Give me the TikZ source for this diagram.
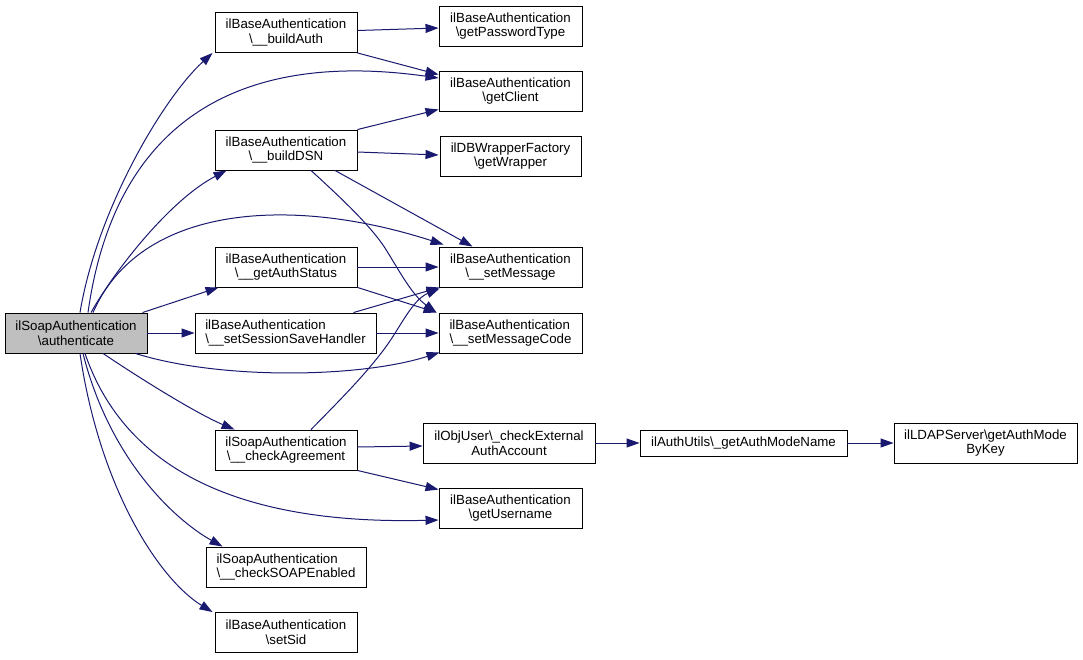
\documentclass[tikz,border=0pt]{standalone}
\usepackage{fontspec}
\setmainfont{Liberation Sans}
\usetikzlibrary{arrows.meta,calc}
\definecolor{edgeblue}{RGB}{25,25,112}
\definecolor{rootgray}{RGB}{191,191,191}
\tikzset{
  fn/.style={draw=black, line width=0.9pt, fill=white, inner sep=0pt, align=center,
    minimum width=142pt, minimum height=40pt,
    font=\fontsize{13.3}{14.6}\selectfont},
  fnl/.style={fn, align=left},
  call/.style={draw=edgeblue, line width=1pt, -{Triangle[length=13pt,width=9pt]}, edgeblue},
}
\begin{document}
\begin{tikzpicture}[x=1pt,y=-1pt]
\path[use as bounding box, fill=white] (0,0) rectangle (1083,659);

\node[fn, fill=rootgray] (root) at (76,333) {ilSoapAuthentication\\\textbackslash authenticate};
\node[fn] (bAuth) at (286,32.5) {ilBaseAuthentication\\\textbackslash\_\_buildAuth};
\node[fn, minimum width=143pt] (gPT) at (510.5,26) {ilBaseAuthentication\\\textbackslash getPasswordType};
\node[fn, minimum width=143pt] (gCl) at (510.5,91) {ilBaseAuthentication\\\textbackslash getClient};
\node[fn] (bDSN) at (286,150) {ilBaseAuthentication\\\textbackslash\_\_buildDSN};
\node[fn, minimum width=141pt] (gWr) at (510.5,156) {ilDBWrapperFactory\\\textbackslash getWrapper};
\node[fn] (gAS) at (286,267) {ilBaseAuthentication\\\textbackslash\_\_getAuthStatus};
\node[fn, minimum width=143pt] (sMsg) at (510.5,267) {ilBaseAuthentication\\\textbackslash\_\_setMessage};
\node[fnl, minimum width=181pt] (ssh) at (285.5,333) {ilBaseAuthentication\\\textbackslash\_\_setSessionSaveHandler};
\node[fnl, minimum width=143pt] (sMC) at (510.5,333) {ilBaseAuthentication\\\textbackslash\_\_setMessageCode};
\node[fn] (cAg) at (286,450) {ilSoapAuthentication\\\textbackslash\_\_checkAgreement};
\node[fn, minimum width=172pt] (cEA) at (509,443) {ilObjUser\textbackslash\_checkExternal\\AuthAccount};
\node[fn, minimum width=207pt, minimum height=26pt] (gAMN) at (743.5,443) {ilAuthUtils\textbackslash\_getAuthModeName};
\node[fn, minimum width=183pt] (gAMK) at (985.5,443) {ilLDAPServer\textbackslash getAuthMode\\ByKey};
\node[fn, minimum width=143pt] (gUN) at (510.5,508) {ilBaseAuthentication\\\textbackslash getUsername};
\node[fnl, minimum width=160pt] (cSE) at (286,567) {ilSoapAuthentication\\\textbackslash\_\_checkSOAPEnabled};
\node[fn] (sSid) at (286,632.5) {ilBaseAuthentication\\\textbackslash setSid};

% edges from root
\draw[call] ($(root.north)+(4,0)$) .. controls (97,210) and (163,98) .. ($(bAuth.south west)+(-2,0)$);
\draw[call] ($(root.north)+(12,0)$) .. controls (115,120) and (240,50) .. ($(gCl.west)+(0,-13)$);
\draw[call] ($(root.north)+(15,0)$) .. controls (115,270) and (170,200) .. ($(bDSN.south west)+(12,0)$);
\draw[call] ($(root.north)+(17,0)$) .. controls (140,205) and (290,195) .. ($(sMsg.north west)+(5,-2)$);
\draw[call] ($(root.north east)+(-5,0)$) -- ($(gAS.south west)+(4,0)$);
\draw[call] (root.east) -- (ssh.west);
\draw[call] ($(root.south east)+(-12,0)$) .. controls (220,380) and (360,378) .. ($(sMC.south west)+(1,-1)$);
\draw[call] ($(root.south)+(27,0)$) .. controls (150,385) and (200,415) .. ($(cAg.north west)+(20,0)$);
\draw[call] ($(root.south)+(9,0)$) .. controls (125,470) and (240,525) .. ($(gUN.west)+(0,12)$);
\draw[call] ($(root.south)+(7,0)$) .. controls (110,460) and (175,520) .. ($(cSE.north west)+(17,0)$);
\draw[call] ($(root.south)+(4,0)$) .. controls (100,490) and (160,580) .. ($(sSid.north west)+(-2,0)$);

% second level
\draw[call] ($(bAuth.east)+(0,-2)$) -- ($(gPT.west)+(0,2)$);
\draw[call] (bAuth.south east) -- ($(gCl.north west)+(0,4)$);
\draw[call] (bDSN.north east) -- ($(gCl.south west)+(0,-2)$);
\draw[call] ($(bDSN.east)+(0,2)$) -- ($(gWr.west)+(-1,-1)$);
\draw[call] ($(bDSN.south)+(49,0)$) -- ($(sMsg.north)+(-38,0)$);
\draw[call] ($(bDSN.south)+(25,0)$) .. controls (340,197) and (370,225) .. (385,248)
   .. controls (400,272) and (412,295) .. ($(sMC.north west)+(-2,0)$);
\draw[call] (gAS.east) -- (sMsg.west);
\draw[call] (gAS.south east) -- ($(sMC.north west)+(-2,0)$);
\draw[call] ($(ssh.north)+(68,0)$) -- ($(sMsg.south west)+(1,0)$);
\draw[call] (ssh.east) -- (sMC.west);
\draw[call] ($(cAg.north)+(25,0)$) .. controls (340,400) and (365,375) .. (385,348)
   .. controls (400,328) and (412,300) .. ($(sMsg.south west)+(1,1)$);
\draw[call] ($(cAg.east)+(0,-3)$) -- ($(cEA.west)+(0,3)$);
\draw[call] (cAg.south east) -- ($(gUN.north west)+(0,2)$);
\draw[call] (cEA.east) -- (gAMN.west);
\draw[call] (gAMN.east) -- (gAMK.west);
\end{tikzpicture}
\end{document}
